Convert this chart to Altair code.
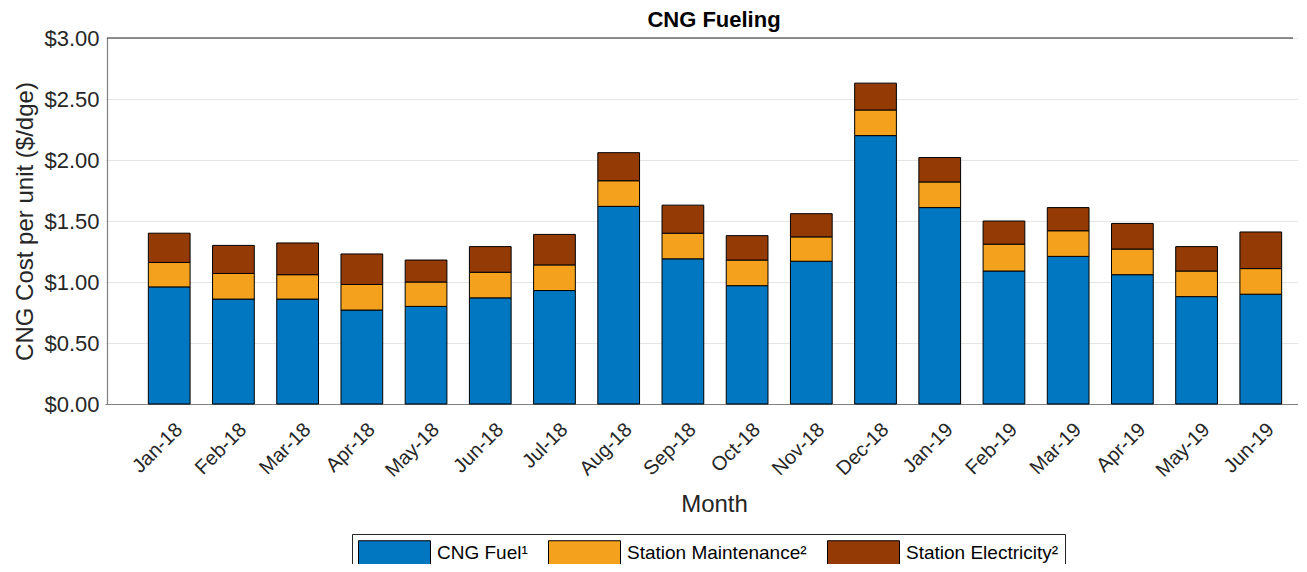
import altair as alt
import pandas as pd

months = ["Jan-18", "Feb-18", "Mar-18", "Apr-18", "May-18", "Jun-18", "Jul-18",
          "Aug-18", "Sep-18", "Oct-18", "Nov-18", "Dec-18", "Jan-19", "Feb-19",
          "Mar-19", "Apr-19", "May-19", "Jun-19"]
cng_fuel = [0.96, 0.86, 0.86, 0.77, 0.80, 0.87, 0.93, 1.62, 1.19, 0.97, 1.17, 2.20,
            1.61, 1.09, 1.21, 1.06, 0.88, 0.90]
station_maint = [0.20, 0.21, 0.20, 0.21, 0.20, 0.21, 0.21, 0.21, 0.21, 0.21, 0.20, 0.21,
                 0.21, 0.22, 0.21, 0.21, 0.21, 0.21]
station_elec = [0.24, 0.23, 0.26, 0.25, 0.18, 0.21, 0.25, 0.23, 0.23, 0.20, 0.19, 0.22,
                0.20, 0.19, 0.19, 0.21, 0.20, 0.30]
series_names = ["CNG Fuel\u00b9", "Station Maintenance\u00b2", "Station Electricity\u00b2"]
series_colors = ["#0077C0", "#F4A11D", "#943A05"]
y_ticks = [0, 0.5, 1.0, 1.5, 2.0, 2.5, 3.0]

rows = []
for i, m in enumerate(months):
    for k, vals in enumerate([cng_fuel, station_maint, station_elec]):
        rows.append({"Month": m, "Component": series_names[k], "Cost": vals[i], "order": k})
df = pd.DataFrame(rows)

TXT = "#262626"

bars = alt.Chart(df).mark_bar(stroke="black", strokeWidth=1, opacity=1).encode(
    x=alt.X("Month:N", sort=months,
            scale=alt.Scale(range=[-2, 1218], paddingInner=0.35, paddingOuter=0.675),
            axis=alt.Axis(title="Month", labelAngle=-45, labelAlign="right", labelBaseline="top",
                          labelFontSize=20, labelColor=TXT, labelPadding=15, labelOffset=3,
                          ticks=False, domainColor="#808080", domainWidth=1.2,
                          titleFontSize=24, titleFontWeight="normal", titleColor=TXT,
                          titleX=607, titleY=107, titleAlign="center",
                          titleBaseline="alphabetic")),
    y=alt.Y("Cost:Q", stack="zero",
            scale=alt.Scale(domain=[0, 3], nice=False),
            axis=alt.Axis(title="CNG Cost per unit ($/dge)", values=y_ticks, format="$.2f",
                          labelFontSize=22, labelColor=TXT, labelPadding=8, ticks=False,
                          domainColor="#808080", domainWidth=1.2,
                          gridColor="#E5E5E5", gridWidth=1,
                          titleFontSize=24, titleFontWeight="normal", titleColor=TXT,
                          titlePadding=6)),
    color=alt.Color("Component:N", sort=series_names,
                    scale=alt.Scale(domain=series_names, range=series_colors),
                    legend=alt.Legend(title=None, orient="none", legendX=245, legendY=496,
                                      direction="horizontal", columns=3,
                                      symbolType="M-1,-1H5V1H-1Z", symbolSize=576,
                                      symbolStrokeColor="black", symbolStrokeWidth=1,
                                      symbolOpacity=1,
                                      labelFontSize=19, labelColor="black", labelOffset=54,
                                      labelLimit=600,
                                      columnPadding=18, padding=6,
                                      strokeColor=TXT, fillColor="white")),
    order=alt.Order("order:Q", sort="ascending"),
)

top_border = alt.Chart(pd.DataFrame({"v": [3.0]})).mark_rule(color=TXT, strokeWidth=1.2).encode(
    y=alt.Y("v:Q")
)

chart = alt.layer(bars, top_border).properties(
    width=1186, height=366,
    title=alt.TitleParams("CNG Fueling", fontSize=22, fontWeight="bold", color="black",
                          anchor="middle", frame="group", offset=-5, dx=14),
    autosize=alt.AutoSizeParams(type="none"),
    padding={"left": 99, "top": 30, "right": 5, "bottom": 160},
).configure(font="Liberation Sans").configure_view(stroke=None)

chart.save("out.html", embed_options={"renderer": "svg", "actions": False})
